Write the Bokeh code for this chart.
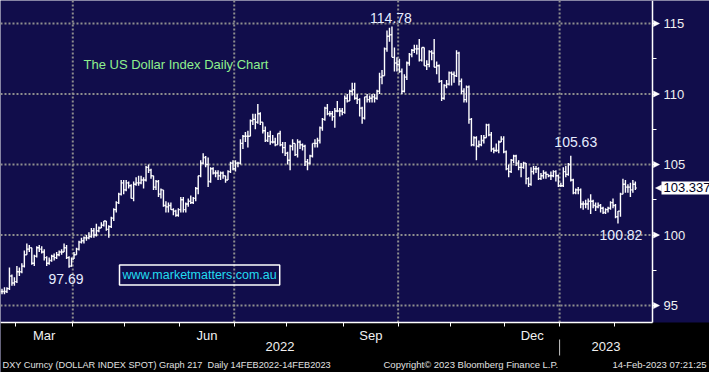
import pandas as pd
from bokeh.plotting import figure
from bokeh.models import (FixedTicker, LinearAxis, Range1d, Label, BoxAnnotation,
                          Arrow, NormalHead, ColumnDataSource)
from bokeh.embed import file_html
from bokeh.resources import INLINE
from bokeh.core.properties import value

# ---------------- data (DXY daily OHLC, 21 Feb 2022 - 13 Feb 2023, weekdays) -------------
start_date = "2022-02-21"
end_date = "2023-02-13"

open_px = [
    96.0, 96.0, 96.0, 96.2, 97.1, 96.6,
    96.7, 97.4, 97.4, 97.8, 98.6, 99.0, 99.1, 98.0, 98.5, 99.1, 99.0, 98.8, 98.4, 98.0, 98.2, 98.5, 98.4, 98.6, 98.8, 98.8, 99.1, 98.4, 97.8,
    98.3, 98.6, 99.0, 99.5, 99.6, 99.8, 99.8, 99.9, 100.3, 100.0, 100.3, 100.5, 100.7, 101.0, 100.4, 100.6, 101.2, 101.8, 102.3, 102.9, 103.7,
    103.2, 103.7, 103.5, 102.6, 103.6, 103.7, 103.7, 103.9, 103.9, 104.8, 104.6, 104.2, 103.4, 103.8, 102.9, 103.2, 102.1, 102.0, 102.1, 101.8, 101.7, 101.4,
    101.8, 102.5, 101.8, 102.2, 102.4, 102.3, 102.6, 103.3, 104.2, 105.1, 105.5, 105.0, 103.8, 104.7, 104.4, 104.4, 104.2, 104.4, 104.2, 103.9, 104.5, 105.1,
    104.7, 105.1, 105.1, 106.5, 107.0, 107.0, 107.0, 108.1, 108.2, 108.0, 108.6, 108.0, 107.4, 106.7, 107.0, 106.6, 106.6, 106.4, 107.2, 106.4, 106.2,
    105.8, 105.3, 106.3, 106.5, 105.7, 106.6, 106.4, 106.3, 105.2, 105.1, 105.6, 106.5, 106.5, 106.7, 107.6, 108.2, 109.0, 108.6, 108.6, 108.4, 108.8, 108.8, 108.8,
    108.7, 109.7, 109.5, 110.2, 110.3, 109.7, 109.6, 109.0, 108.3, 109.8, 109.6, 109.7, 109.8, 109.7, 110.2, 111.2, 111.3, 113.2, 114.1, 114.2, 112.6, 112.2,
    112.1, 111.6, 110.2, 111.2, 112.2, 112.8, 113.1, 113.2, 113.2, 112.4, 113.3, 112.0, 112.1, 113.0, 112.9, 111.9, 112.0, 110.9, 109.7, 110.6, 110.7,
    111.5, 111.4, 111.3, 112.9, 110.9, 110.2, 109.6, 110.5, 108.2, 106.4, 106.9, 106.3, 106.4, 106.7, 106.9, 107.8, 107.1, 106.1, 106.0, 106.0, 106.6, 106.8,
    105.9, 104.7, 104.5, 105.3, 105.6, 105.1, 104.8, 104.8, 105.1, 104.0, 103.6, 104.5, 104.7, 104.7, 104.0, 104.2, 104.4, 104.3, 104.2, 104.2, 104.5, 104.2,
    103.5, 103.5, 104.5, 104.3, 105.0, 103.9, 103.0, 103.2, 103.2, 102.2, 102.2, 102.2, 102.4, 102.4, 102.1, 102.0, 102.1, 101.9, 101.6, 101.8, 101.9, 102.3,
    102.1, 101.3, 101.7, 102.9, 103.6, 103.4, 103.4, 103.2, 103.6,
]
high_px = [
    96.2, 96.3, 96.3, 97.7, 97.2, 97.0,
    97.8, 97.7, 98.0, 98.9, 99.4, 99.3, 99.1, 98.6, 99.2, 99.3, 99.2, 99.0, 98.5, 98.4, 98.6, 98.7, 98.8, 98.9, 99.0, 99.4, 99.3, 98.5, 98.4,
    98.8, 99.1, 99.6, 99.8, 99.9, 100.0, 100.2, 100.5, 100.5, 100.8, 100.6, 100.9, 101.0, 101.0, 100.7, 101.3, 101.9, 102.4, 103.0, 103.9, 103.9,
    103.9, 103.8, 103.6, 103.8, 104.1, 104.2, 104.2, 104.1, 104.9, 105.0, 104.7, 104.2, 103.9, 103.9, 103.3, 103.2, 102.4, 102.3, 102.3, 101.9, 101.8, 101.9,
    102.7, 102.7, 102.3, 102.6, 102.8, 102.7, 103.4, 104.2, 105.3, 105.8, 105.6, 105.5, 104.8, 104.8, 104.6, 104.6, 104.5, 104.5, 104.2, 104.6, 105.2, 105.3,
    105.3, 105.2, 106.8, 107.1, 107.3, 107.4, 108.2, 108.6, 108.6, 109.3, 108.7, 108.0, 107.7, 107.3, 107.4, 107.1, 106.9, 107.2, 107.4, 106.6, 106.6,
    105.9, 106.4, 106.8, 106.5, 106.8, 106.7, 106.5, 106.4, 105.4, 105.7, 106.5, 106.8, 106.9, 107.7, 108.3, 109.1, 109.3, 108.8, 108.8, 109.0, 109.5, 109.0, 109.0,
    109.9, 110.0, 110.3, 110.8, 110.8, 110.0, 109.7, 109.1, 109.8, 110.0, 109.9, 110.0, 110.0, 110.3, 111.5, 111.7, 113.3, 114.5, 114.7, 114.78, 113.3, 112.6,
    112.5, 111.8, 111.4, 112.3, 112.9, 113.2, 113.5, 113.5, 113.9, 113.3, 113.3, 112.4, 113.1, 113.1, 113.9, 112.3, 112.1, 111.0, 110.7, 111.0, 111.6,
    111.6, 111.6, 113.1, 113.0, 111.1, 110.4, 110.6, 110.6, 108.3, 107.0, 107.0, 106.7, 107.1, 107.1, 107.9, 107.9, 107.3, 106.2, 106.5, 106.7, 107.0, 107.0,
    106.0, 105.0, 105.4, 105.7, 105.7, 105.3, 105.1, 105.2, 105.1, 104.1, 104.8, 104.9, 104.9, 104.8, 104.4, 104.6, 104.5, 104.3, 104.5, 104.6, 104.6, 104.3,
    103.7, 104.8, 104.9, 105.1, 105.63, 104.0, 103.3, 103.4, 103.3, 102.4, 102.5, 102.6, 102.9, 102.5, 102.3, 102.3, 102.2, 102.0, 101.9, 102.0, 102.4, 102.6,
    102.2, 101.7, 103.0, 104.0, 103.9, 103.6, 103.7, 103.9, 103.8,
]
low_px = [
    95.8, 95.8, 95.9, 96.1, 96.4, 96.4,
    96.6, 97.1, 97.3, 97.7, 98.6, 98.8, 97.9, 97.8, 98.4, 98.8, 98.7, 98.2, 97.8, 97.9, 98.1, 98.2, 98.3, 98.5, 98.6, 98.8, 98.3, 97.69, 97.75,
    98.3, 98.6, 98.9, 99.4, 99.4, 99.6, 99.7, 99.8, 99.8, 99.9, 100.2, 100.5, 100.6, 100.3, 99.8, 100.5, 101.0, 101.6, 102.2, 102.8, 102.9,
    103.1, 103.3, 102.6, 102.4, 103.5, 103.5, 103.6, 103.3, 103.8, 104.4, 104.0, 103.2, 103.2, 102.7, 102.6, 102.0, 101.6, 101.6, 101.8, 101.4, 101.3, 101.3,
    101.6, 101.6, 101.6, 102.0, 102.2, 102.2, 102.4, 102.9, 104.1, 105.0, 104.8, 103.4, 103.7, 104.3, 104.1, 103.9, 103.9, 104.0, 103.7, 103.9, 104.4, 104.6,
    104.5, 104.8, 105.0, 106.1, 106.6, 106.2, 107.0, 107.8, 107.5, 107.9, 107.8, 107.2, 106.6, 106.6, 106.4, 106.5, 106.3, 106.4, 106.3, 105.8, 105.6,
    105.0, 104.6, 106.0, 105.6, 105.5, 106.1, 106.0, 104.9, 104.6, 105.0, 105.5, 106.2, 106.2, 106.5, 107.4, 108.1, 108.5, 108.4, 108.1, 107.6, 108.7, 108.4, 108.5,
    108.6, 109.4, 109.5, 109.9, 109.6, 109.3, 108.4, 107.9, 108.2, 109.4, 109.4, 109.4, 109.4, 109.6, 110.0, 110.7, 111.3, 113.0, 113.7, 112.6, 111.6, 111.6,
    111.5, 110.0, 110.1, 111.0, 112.0, 112.6, 112.9, 112.8, 112.3, 112.3, 112.0, 111.7, 111.9, 112.4, 111.9, 111.4, 110.8, 109.5, 109.6, 110.4, 110.6,
    110.6, 110.8, 111.2, 110.6, 110.0, 109.4, 109.4, 107.9, 106.3, 106.3, 105.3, 106.2, 106.3, 106.5, 106.9, 107.0, 105.9, 105.8, 105.9, 105.8, 106.6, 105.8,
    104.6, 104.1, 104.4, 105.1, 104.9, 104.6, 104.1, 104.7, 103.6, 103.4, 103.5, 104.3, 104.4, 103.9, 103.9, 104.0, 104.0, 104.1, 103.9, 104.1, 103.8, 103.4,
    103.4, 103.4, 104.1, 104.2, 103.8, 102.9, 102.9, 102.9, 101.9, 101.8, 101.9, 101.8, 101.5, 101.9, 101.7, 101.9, 101.6, 101.5, 101.5, 101.6, 101.8, 101.9,
    101.2, 100.82, 101.3, 102.9, 103.0, 103.0, 102.7, 103.0, 103.2,
]
close_px = [
    96.0, 96.0, 96.2, 97.1, 96.6, 96.7,
    97.4, 97.4, 97.8, 98.6, 99.0, 99.1, 98.0, 98.5, 99.1, 99.0, 98.8, 98.4, 98.0, 98.2, 98.5, 98.4, 98.6, 98.8, 98.8, 99.1, 98.4, 97.8, 98.3,
    98.6, 99.0, 99.5, 99.6, 99.8, 99.8, 99.9, 100.3, 100.0, 100.3, 100.5, 100.7, 101.0, 100.4, 100.6, 101.2, 101.8, 102.3, 102.9, 103.7, 103.2,
    103.7, 103.5, 102.6, 103.6, 103.7, 103.7, 103.9, 103.9, 104.8, 104.6, 104.2, 103.4, 103.8, 102.9, 103.2, 102.1, 102.0, 102.1, 101.8, 101.7, 101.4, 101.8,
    102.5, 101.8, 102.2, 102.4, 102.3, 102.6, 103.3, 104.2, 105.1, 105.5, 105.0, 103.8, 104.7, 104.4, 104.4, 104.2, 104.4, 104.2, 103.9, 104.5, 105.1, 104.7,
    105.1, 105.1, 106.5, 107.0, 107.0, 107.0, 108.1, 108.2, 108.0, 108.6, 108.0, 107.4, 106.7, 107.0, 106.6, 106.6, 106.4, 107.2, 106.4, 106.2, 105.8,
    105.3, 106.3, 106.5, 105.7, 106.6, 106.4, 106.3, 105.2, 105.1, 105.6, 106.5, 106.5, 106.7, 107.6, 108.2, 109.0, 108.6, 108.6, 108.4, 108.8, 108.8, 108.8, 108.7,
    109.7, 109.5, 110.2, 110.3, 109.7, 109.6, 109.0, 108.3, 109.8, 109.6, 109.7, 109.8, 109.7, 110.2, 111.2, 111.3, 113.2, 114.1, 114.2, 112.6, 112.2, 112.1,
    111.6, 110.2, 111.2, 112.2, 112.8, 113.1, 113.2, 113.2, 112.4, 113.3, 112.0, 112.1, 113.0, 112.9, 111.9, 112.0, 110.9, 109.7, 110.6, 110.7, 111.5,
    111.4, 111.3, 112.9, 110.9, 110.2, 109.6, 110.5, 108.2, 106.4, 106.9, 106.3, 106.4, 106.7, 106.9, 107.8, 107.1, 106.1, 106.0, 106.0, 106.6, 106.8, 105.9,
    104.7, 104.5, 105.3, 105.6, 105.1, 104.8, 104.8, 105.1, 104.0, 103.6, 104.5, 104.7, 104.7, 104.0, 104.2, 104.4, 104.3, 104.2, 104.2, 104.5, 104.2, 103.5,
    103.5, 104.5, 104.3, 105.0, 103.9, 103.0, 103.2, 103.2, 102.2, 102.2, 102.2, 102.4, 102.4, 102.1, 102.0, 102.1, 101.9, 101.6, 101.8, 101.9, 102.3, 102.1,
    101.3, 101.7, 102.9, 103.6, 103.4, 103.4, 103.2, 103.6, 103.337,
]

right_ticks = [95, 100, 105, 110, 115]
right_minor_ticks = [97.5, 102.5, 107.5, 112.5]
month_names = {3: "Mar", 6: "Jun", 9: "Sep", 12: "Dec"}
grid_months = [1, 4, 7, 10]
# callouts: (date, which price, x offset px, y offset px)
callouts = [("2022-09-28", "high", -1, -9), ("2023-01-06", "high", 5, -14),
            ("2022-03-30", "low", -3, 11), ("2023-02-02", "low", 3, 12)]
title_text = "The US Dollar Index Daily Chart"
watermark_text = "www.marketmatters.com.au"
footer_left = "DXY Curncy (DOLLAR INDEX SPOT) Graph 217\u00a0 Daily 14FEB2022-14FEB2023"
footer_mid = "Copyright\u00a9 2023 Bloomberg Finance L.P."
footer_right = "14-Feb-2023 07:21:25"

# ---------------- styling / geometry ----------------
NAVY = "#110d4b"
WHITE = "#ffffff"
GRID = "#8e8e8e"
FONT = "Liberation Sans"
W, H = 709, 372
PLOT_W, PLOT_H = 652, 322          # chart panel inside the canvas
X0, X1 = -0.6, 261.9               # data x at the chart panel's left / right edge
Y0, Y1 = 93.8, 116.63              # data y at the chart panel's bottom / top edge
ppx = PLOT_W / (X1 - X0)
ppy = PLOT_H / (Y1 - Y0)
XC = X0 + W / ppx                  # data x at canvas right edge
YC = Y1 - H / ppy                  # data y at canvas bottom edge


def cy(canvas_y):
    """canvas pixel row -> data y"""
    return Y1 - canvas_y / ppy


dates = pd.bdate_range(start_date, end_date)
n = min(len(dates), len(open_px), len(high_px), len(low_px), len(close_px))
dates = dates[:n]
xs = list(range(n))

src = ColumnDataSource(dict(
    x=xs, xl=[i - 0.5 for i in xs], xr=[i + 0.5 for i in xs],
    o=open_px[:n], h=high_px[:n], l=low_px[:n], c=close_px[:n]))

p = figure(width=W, height=H, output_backend="svg", toolbar_location=None,
           x_range=Range1d(X0, XC), y_range=Range1d(YC, Y1),
           x_axis_location=None, y_axis_location=None,
           min_border=0, min_border_left=0, min_border_right=0,
           min_border_top=0, min_border_bottom=0,
           background_fill_color=NAVY, border_fill_color="black",
           outline_line_color=None)
for g in list(p.xgrid) + list(p.ygrid):
    g.visible = False

# black band under the chart panel
p.add_layout(BoxAnnotation(top=Y0, fill_color="black", fill_alpha=1.0,
                           line_color=None, level="underlay"))

# month boundaries / centers
bounds = []
month_idx = {}
for i, d in enumerate(dates):
    month_idx.setdefault((d.year, d.month), []).append(i)
    if i > 0 and d.month != dates[i - 1].month:
        bounds.append(i - 0.5)
centers = {}
for (yy, mm), idx in month_idx.items():
    if mm in month_names:
        centers[(idx[0] + idx[-1]) / 2.0] = month_names[mm]
grid_x = [b for b in bounds if dates[int(b + 0.5)].month in grid_months]
jan_b = [b for b in bounds if dates[int(b + 0.5)].month == 1]
split = jan_b[0]
year_centers = {(X0 + split) / 2.0: str(dates[0].year),
                (split + X1) / 2.0: str(dates[-1].year)}

# dotted grid lines, limited to the chart panel
p.segment(x0=[X0] * len(right_ticks), y0=right_ticks, x1=[X1] * len(right_ticks), y1=right_ticks,
          line_color=GRID, line_width=2, line_dash="2 2", level="underlay")
p.segment(x0=grid_x, y0=[Y0] * len(grid_x), x1=grid_x, y1=[Y1] * len(grid_x),
          line_color=GRID, line_width=2, line_dash="2 2", level="underlay")

# OHLC bars
p.segment(x0="x", y0="l", x1="x", y1="h", source=src, line_color=WHITE, line_width=1.4)
p.segment(x0="xl", y0="o", x1="x", y1="o", source=src, line_color=WHITE, line_width=1.4)
p.segment(x0="x", y0="c", x1="xr", y1="c", source=src, line_color=WHITE, line_width=1.4)

# axes drawn at fixed locations on the panel edges
ax_m = LinearAxis(fixed_location=Y0, bounds=(X0, X1),
                  ticker=FixedTicker(ticks=list(centers.keys()), minor_ticks=bounds),
                  major_label_overrides=centers,
                  axis_line_color=WHITE, axis_line_width=1.5,
                  major_tick_line_color=None, major_tick_in=0, major_tick_out=0,
                  minor_tick_line_color=WHITE, minor_tick_in=0, minor_tick_out=4,
                  major_label_standoff=1, major_label_text_color="#f0f0f0",
                  major_label_text_font=FONT, major_label_text_font_size="13px")
p.add_layout(ax_m, "below")
ax_y = LinearAxis(fixed_location=Y0, bounds=(X0, X1),
                  ticker=FixedTicker(ticks=list(year_centers.keys()), minor_ticks=[]),
                  major_label_overrides=year_centers,
                  axis_line_color=None,
                  major_tick_line_color=None, major_tick_in=0, major_tick_out=0,
                  minor_tick_line_color=None,
                  major_label_standoff=19, major_label_text_color="#f0f0f0",
                  major_label_text_font=FONT, major_label_text_font_size="13px")
p.add_layout(ax_y, "below")
ax_r = LinearAxis(fixed_location=X1, bounds=(Y0, Y1),
                  ticker=FixedTicker(ticks=right_ticks, minor_ticks=right_minor_ticks),
                  axis_line_color=WHITE, axis_line_width=1.5,
                  major_tick_line_color=WHITE, major_tick_in=0, major_tick_out=6,
                  minor_tick_line_color=WHITE, minor_tick_in=0, minor_tick_out=4,
                  major_label_standoff=5, major_label_text_color="#f0f0f0",
                  major_label_text_font=FONT, major_label_text_font_size="13px")
p.add_layout(ax_r, "right")

# year separator
p.segment(x0=jan_b, y0=[cy(339)] * len(jan_b), x1=jan_b, y1=[cy(355)] * len(jan_b),
          line_color="#c8c8c8", line_width=1)

# arrow-shaped major ticks on the right axis
for t in right_ticks:
    p.add_layout(Arrow(end=NormalHead(size=6, fill_color=WHITE, line_color=WHITE, line_width=0.5),
                       x_start=X1, y_start=t, x_end=X1 + 7 / ppx, y_end=t,
                       line_color=WHITE, line_width=0.5))

# last value tag
last = close_px[n - 1]
p.add_layout(Arrow(end=NormalHead(size=6, fill_color=WHITE, line_color=WHITE, line_width=0.5),
                   x_start=X1 + 9 / ppx, y_start=last, x_end=X1 + 3 / ppx, y_end=last,
                   line_color=WHITE, line_width=0.5))
tag_kw = dict(x=X1 + 9 / ppx, y=last, text=f"{last:.3f}",
              text_font=FONT, text_font_size="13px", text_color="#000022",
              text_baseline="middle", text_align="left",
              background_fill_color=WHITE, background_fill_alpha=1.0)
if "padding" in Label.properties():
    tag_kw["padding"] = 2
p.add_layout(Label(**tag_kw))

# callouts
cx_list, cy_list, ct_list, cxo, cyo = [], [], [], [], []
for ds, kind, ox, oy in callouts:
    i = int(dates.get_loc(pd.Timestamp(ds)))
    v = high_px[i] if kind == "high" else low_px[i]
    cx_list.append(i)
    cy_list.append(v)
    ct_list.append(f"{v:.2f}")
    cxo.append(ox)
    cyo.append(oy)
csrc = ColumnDataSource(dict(x=cx_list, y=cy_list, t=ct_list, xo=cxo, yo=cyo))
p.text(x="x", y="y", text="t", x_offset="xo", y_offset="yo", source=csrc,
       text_color="#e6ecff", text_font=value(FONT), text_font_size="14px",
       text_align="center", text_baseline="middle")

# title and watermark
p.add_layout(Label(x=X0 + 83 / ppx, y=cy(64), text=title_text,
                   text_font=FONT, text_font_size="13px", text_color="#8ef08e",
                   text_baseline="middle", text_align="left"))
wm_kw = dict(x=X0 + 119 / ppx, y=cy(274.5), text=watermark_text,
             text_font=FONT, text_font_size="12.5px", text_color="#22dcf0",
             text_baseline="middle", text_align="left",
             border_line_color=WHITE, border_line_width=1.5)
if "padding" in Label.properties():
    wm_kw["padding"] = 3
p.add_layout(Label(**wm_kw))

# footer
for txt, xpos, fs in ((footer_left, 2, "9.2px"), (footer_mid, 383, "9.5px"), (footer_right, 612, "9.5px")):
    p.add_layout(Label(x=X0 + xpos / ppx, y=cy(364), text=txt,
                       text_font=FONT, text_font_size=fs, text_color="#e0e0e0",
                       text_baseline="middle", text_align="left"))

open("out.html", "w").write(file_html(p, INLINE))
